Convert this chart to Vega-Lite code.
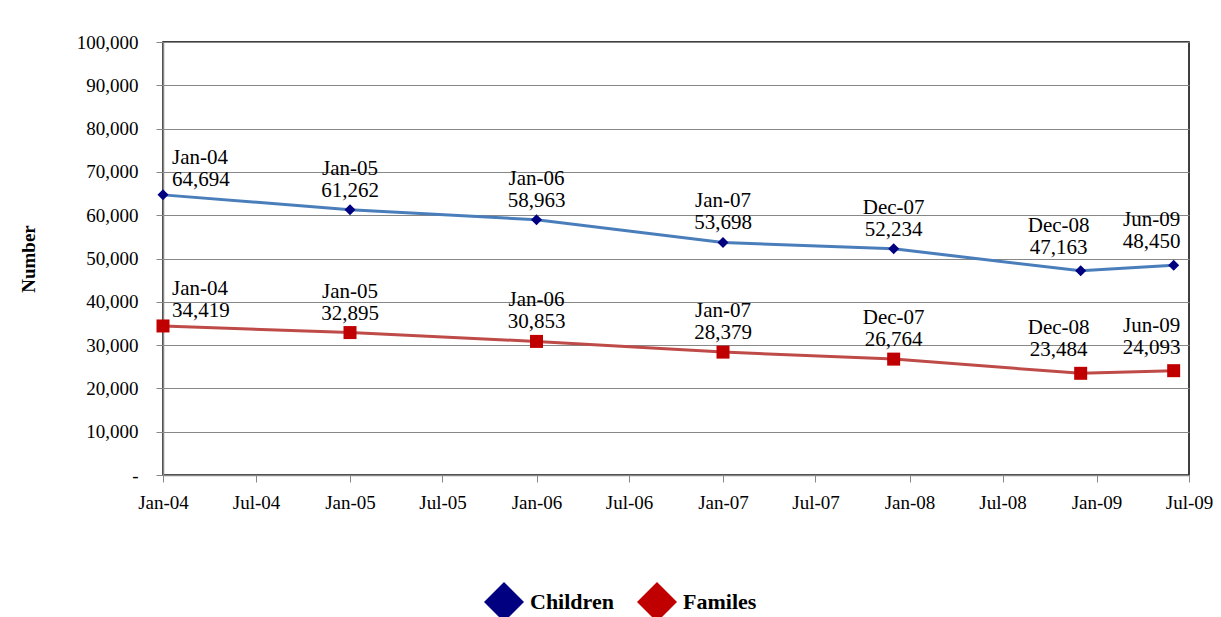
{
  "$schema": "https://vega.github.io/schema/vega-lite/v6.json",
  "width": 1026,
  "height": 433,
  "autosize": {"type": "none"},
  "padding": {"left": 163, "top": 42, "right": 32, "bottom": 142},
  "background": "white",
  "config": {
    "view": {"stroke": "#000000", "strokeWidth": 1.5},
    "font": "Liberation Serif"
  },
  "data": {
    "values": [
      {"date": "2004-01-01", "mlabel": "Jan-04", "series": "Children", "value": 64694},
      {"date": "2005-01-01", "mlabel": "Jan-05", "series": "Children", "value": 61262},
      {"date": "2006-01-01", "mlabel": "Jan-06", "series": "Children", "value": 58963},
      {"date": "2007-01-01", "mlabel": "Jan-07", "series": "Children", "value": 53698},
      {"date": "2007-12-01", "mlabel": "Dec-07", "series": "Children", "value": 52234},
      {"date": "2008-12-01", "mlabel": "Dec-08", "series": "Children", "value": 47163},
      {"date": "2009-06-01", "mlabel": "Jun-09", "series": "Children", "value": 48450},
      {"date": "2004-01-01", "mlabel": "Jan-04", "series": "Familes", "value": 34419},
      {"date": "2005-01-01", "mlabel": "Jan-05", "series": "Familes", "value": 32895},
      {"date": "2006-01-01", "mlabel": "Jan-06", "series": "Familes", "value": 30853},
      {"date": "2007-01-01", "mlabel": "Jan-07", "series": "Familes", "value": 28379},
      {"date": "2007-12-01", "mlabel": "Dec-07", "series": "Familes", "value": 26764},
      {"date": "2008-12-01", "mlabel": "Dec-08", "series": "Familes", "value": 23484},
      {"date": "2009-06-01", "mlabel": "Jun-09", "series": "Familes", "value": 24093}
    ]
  },
  "transform": [
    {"calculate": "datum.mlabel + '\\n' + format(datum.value, ',')", "as": "label"}
  ],
  "encoding": {
    "x": {
      "field": "date",
      "type": "temporal",
      "scale": {
        "type": "utc",
        "domain": [
          {"year": 2004, "month": 1, "date": 1, "utc": true},
          {"year": 2009, "month": 7, "date": 1, "utc": true}
        ]
      },
      "axis": {
        "title": null,
        "labelExpr": "utcFormat(datum.value, '%b-%y')",
        "values": [
          {"year": 2004, "month": 1, "date": 1, "utc": true},
          {"year": 2004, "month": 7, "date": 1, "utc": true},
          {"year": 2005, "month": 1, "date": 1, "utc": true},
          {"year": 2005, "month": 7, "date": 1, "utc": true},
          {"year": 2006, "month": 1, "date": 1, "utc": true},
          {"year": 2006, "month": 7, "date": 1, "utc": true},
          {"year": 2007, "month": 1, "date": 1, "utc": true},
          {"year": 2007, "month": 7, "date": 1, "utc": true},
          {"year": 2008, "month": 1, "date": 1, "utc": true},
          {"year": 2008, "month": 7, "date": 1, "utc": true},
          {"year": 2009, "month": 1, "date": 1, "utc": true},
          {"year": 2009, "month": 7, "date": 1, "utc": true}
        ],
        "grid": false,
        "domainColor": "#878787",
        "domainWidth": 1.5,
        "tickColor": "#878787",
        "tickSize": 7,
        "labelFont": "Liberation Serif",
        "labelFontSize": 19,
        "labelColor": "#000000",
        "labelPadding": 11,
        "labelFlush": false,
        "labelOverlap": false
      }
    },
    "y": {
      "field": "value",
      "type": "quantitative",
      "scale": {"domain": [0, 100000], "nice": false},
      "axis": {
        "values": [0, 10000, 20000, 30000, 40000, 50000, 60000, 70000, 80000, 90000, 100000],
        "labelExpr": "datum.value === 0 ? '-' : format(datum.value, ',')",
        "grid": true,
        "gridColor": "#878787",
        "gridWidth": 1,
        "domainColor": "#878787",
        "domainWidth": 1.5,
        "tickColor": "#878787",
        "tickSize": 7,
        "labelFont": "Liberation Serif",
        "labelFontSize": 19,
        "labelColor": "#000000",
        "labelPadding": 18,
        "title": "Number",
        "titleFont": "Liberation Serif",
        "titleFontSize": 19,
        "titleFontWeight": "bold",
        "titleColor": "#000000",
        "titleX": -135,
        "titleY": 216.5,
        "titleAngle": -90,
        "titleAlign": "center",
        "titleBaseline": "middle"
      }
    }
  },
  "layer": [
    {
      "transform": [{"filter": "datum.series === 'Children'"}],
      "mark": {"type": "line", "strokeWidth": 3, "color": "#4A7EBB"},
      "encoding": {}
    },
    {
      "transform": [{"filter": "datum.series === 'Familes'"}],
      "mark": {"type": "line", "strokeWidth": 3, "color": "#BE4B48"},
      "encoding": {}
    },
    {
      "transform": [{"filter": "datum.series === 'Children'"}],
      "mark": {"type": "point", "filled": true, "opacity": 1, "size": 121, "shape": "diamond"},
      "encoding": {
        "fill": {
          "field": "series",
          "type": "nominal",
          "scale": {"domain": ["Children", "Familes"], "range": ["#000080", "#C00000"]},
          "legend": {
            "title": null,
            "orient": "none",
            "legendX": 320,
            "legendY": 539,
            "direction": "horizontal",
            "columns": 2,
            "columnPadding": 22,
            "symbolSize": 1600,
            "labelFont": "Liberation Serif",
            "labelFontSize": 22,
            "labelFontWeight": "bold",
            "labelColor": "#000000",
            "labelOffset": 5,
            "encode": {
              "symbols": {
                "update": {
                  "shape": {"signal": "datum.value === 'Children' ? 'M-1,-0.075H1V0.075H-1Z M0,-0.28L0.28,0L0,0.28L-0.28,0Z' : 'M-1,-0.075H1V0.075H-1Z M-0.3,-0.3H0.3V0.3H-0.3Z'"},
                  "size": {"value": 1600},
                  "strokeWidth": {"value": 0},
                  "opacity": {"value": 1}
                }
              }
            }
          }
        }
      }
    },
    {
      "transform": [{"filter": "datum.series === 'Familes'"}],
      "mark": {"type": "point", "filled": true, "opacity": 1, "size": 169, "shape": "square"},
      "encoding": {
        "fill": {
          "field": "series",
          "type": "nominal",
          "scale": {"domain": ["Children", "Familes"], "range": ["#000080", "#C00000"]}
        }
      }
    },
    {
      "transform": [{"filter": "datum.mlabel === 'Jan-04'"}],
      "mark": {"type": "text", "align": "left", "baseline": "bottom", "dx": 9, "dy": -27, "fontSize": 21, "lineHeight": 22, "font": "Liberation Serif", "color": "#000000", "lineBreak": "\n"},
      "encoding": {"text": {"field": "label", "type": "nominal"}}
    },
    {
      "transform": [{"filter": {"field": "mlabel", "oneOf": ["Jan-05", "Jan-06", "Jan-07", "Dec-07"]}}],
      "mark": {"type": "text", "align": "center", "baseline": "bottom", "dx": 0, "dy": -31, "fontSize": 21, "lineHeight": 22, "font": "Liberation Serif", "color": "#000000", "lineBreak": "\n"},
      "encoding": {"text": {"field": "label", "type": "nominal"}}
    },
    {
      "transform": [{"filter": {"field": "mlabel", "oneOf": ["Dec-08", "Jun-09"]}}],
      "mark": {"type": "text", "align": "center", "baseline": "bottom", "dx": -22, "dy": -35, "fontSize": 21, "lineHeight": 22, "font": "Liberation Serif", "color": "#000000", "lineBreak": "\n"},
      "encoding": {"text": {"field": "label", "type": "nominal"}}
    }
  ]
}
